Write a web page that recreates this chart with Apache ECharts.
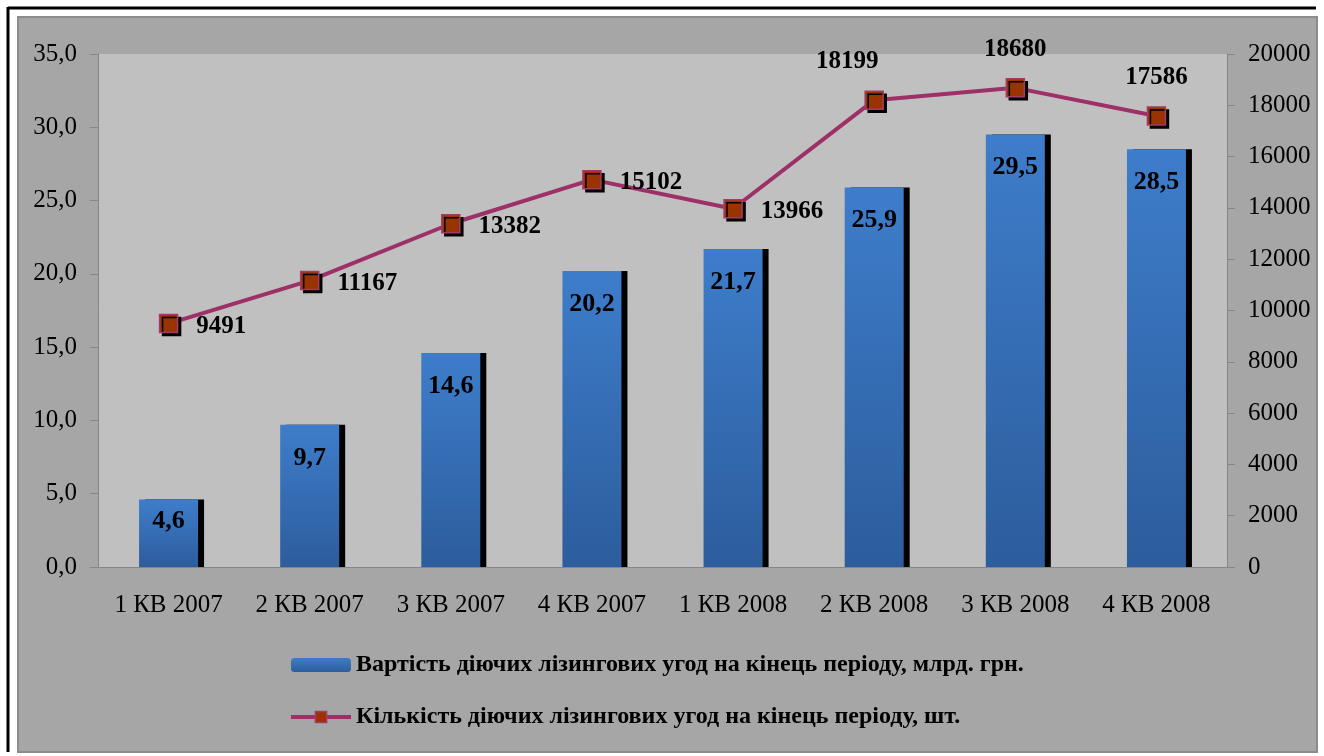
<!DOCTYPE html>
<html>
<head>
<meta charset="utf-8">
<script src="https://cdn.jsdelivr.net/npm/echarts@6/dist/echarts.min.js"></script>
<style>
    html, body { margin: 0; padding: 0; background: #fff; }
    #chart { width: 1324px; height: 756px; }
</style>
</head>
<body>
<div id="chart"></div>
<script>
    // дані
    const categories = ['1 КВ 2007', '2 КВ 2007', '3 КВ 2007', '4 КВ 2007', '1 КВ 2008', '2 КВ 2008', '3 КВ 2008', '4 КВ 2008'];
    const valueBln = [4.6, 9.7, 14.6, 20.2, 21.7, 25.9, 29.5, 28.5];
    const dealCount = [9491, 11167, 13382, 15102, 13966, 18199, 18680, 17586];
    const barName = 'Вартість діючих лізингових угод на кінець періоду, млрд. грн.';
    const lineName = 'Кількість діючих лізингових угод на кінець періоду, шт.';

    const font = 'Liberation Serif, Times New Roman, serif';
    const comma = v => v.toFixed(1).replace('.', ',');

    // низький перший стовпчик - підпис ближче до верху
    let barData = valueBln.map((v, i) => i === 0 ? { value: v, label: { distance: 9 } } : v);

    // підписи лінії: перші п'ять праворуч, останні три зверху
    let lineData = dealCount.map((v, i) => {
        if (i < 5) {
            return { value: v, label: { position: 'right', distance: 18, offset: [0, 3] } };
        }
        let off = i === 5 ? [-27, 0] : [0, 0];
        return { value: v, label: { position: 'top', distance: 16, offset: off } };
    });

    let myChart = echarts.init(document.getElementById('chart'));
    let option = {
        animation: false,
        graphic: [
            { type: 'rect', shape: { x: 18, y: 17, width: 1299, height: 735 },
              style: { fill: '#a6a6a6', stroke: '#8c8c8c', lineWidth: 2 }, z: -10 },
            { type: 'line', shape: { x1: 8, y1: 8, x2: 1316, y2: 8 },
              style: { stroke: '#000', lineWidth: 3 }, z: -9 },
            { type: 'line', shape: { x1: 8, y1: 7, x2: 8, y2: 752 },
              style: { stroke: '#000', lineWidth: 3 }, z: -9 }
        ],
        grid: {
            left: 98, right: 97, top: 54, bottom: 189,
            show: true, backgroundColor: '#c0c0c0', borderWidth: 0
        },
        legend: {
            orient: 'vertical',
            left: 284,
            top: 648,
            itemGap: 28,
            itemWidth: 60,
            itemHeight: 14,
            textStyle: { fontFamily: font, fontSize: 24, fontWeight: 'bold', color: '#000' },
            data: [
                barName,
                { name: lineName, itemStyle: { borderWidth: 1.5 }, lineStyle: { width: 4 } }
            ]
        },
        xAxis: {
            type: 'category',
            data: categories,
            axisLine: { lineStyle: { color: '#868686', width: 1 } },
            axisTick: { length: 7, lineStyle: { color: '#868686' } },
            axisLabel: { fontFamily: font, fontSize: 25, color: '#000', margin: 26 }
        },
        yAxis: [
            {
                type: 'value', min: 0, max: 35, interval: 5,
                axisLine: { show: true, lineStyle: { color: '#868686' } },
                axisTick: { show: true, length: 8, lineStyle: { color: '#868686' } },
                splitLine: { show: false },
                axisLabel: { fontFamily: font, fontSize: 25, color: '#000', margin: 21, formatter: comma }
            },
            {
                type: 'value', min: 0, max: 20000, interval: 2000,
                axisLine: { show: true, lineStyle: { color: '#868686' } },
                axisTick: { show: true, length: 8, lineStyle: { color: '#868686' } },
                splitLine: { show: false },
                axisLabel: { fontFamily: font, fontSize: 25, color: '#000', margin: 21, formatter: v => String(v) }
            }
        ],
        series: [
            {
                name: barName,
                type: 'bar',
                data: barData,
                barWidth: 59,
                itemStyle: {
                    color: new echarts.graphic.LinearGradient(0, 0, 0, 1, [
                        { offset: 0, color: '#3e7dcb' },
                        { offset: 1, color: '#2c5d9c' }
                    ]),
                    shadowColor: '#000',
                    shadowOffsetX: 6,
                    shadowOffsetY: 0,
                    shadowBlur: 0
                },
                label: {
                    show: true,
                    position: 'insideTop',
                    distance: 20,
                    fontFamily: font,
                    fontSize: 26,
                    fontWeight: 'bold',
                    color: '#000',
                    formatter: p => comma(p.value)
                }
            },
            {
                name: lineName,
                type: 'line',
                yAxisIndex: 1,
                data: lineData,
                symbol: 'rect',
                symbolSize: 18,
                lineStyle: { color: '#9e3068', width: 4 },
                itemStyle: {
                    color: '#993300',
                    borderColor: '#a33a6e',
                    borderWidth: 1.5,
                    shadowColor: '#000',
                    shadowOffsetX: 3,
                    shadowOffsetY: 3,
                    shadowBlur: 0
                },
                label: {
                    show: true,
                    fontFamily: font,
                    fontSize: 25,
                    fontWeight: 'bold',
                    color: '#000'
                },
                z: 5
            }
        ]
    };
    myChart.setOption(option);
</script>
</body>
</html>
